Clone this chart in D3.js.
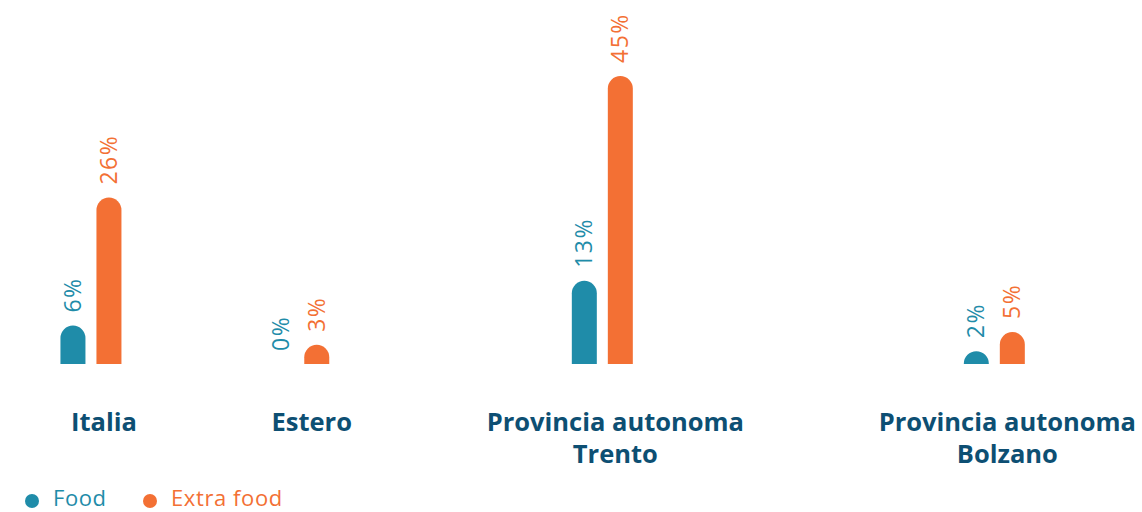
<!DOCTYPE html>
<html>
<head>
<meta charset="utf-8">
<script src="https://cdn.jsdelivr.net/npm/d3@7"></script>
<style>
  body { margin: 0; background: #fff; }
  svg { display: block; }
</style>
</head>
<body>
<div id="chart"></div>
<script>
var categories = [['Italia'], ['Estero'], ['Provincia autonoma', 'Trento'], ['Provincia autonoma', 'Bolzano']];
var seriesNames = ['Food', 'Extra food'];
var food = [6, 0, 13, 2];
var extraFood = [26, 3, 45, 5];
var colors = ['#1f8ca9', '#f37034'];

var w = 1142, h = 512;
var baseline = 364;
var barW = 25, barStep = 36, r = barW / 2;

var svg = d3.select('#chart').append('svg')
  .attr('width', w)
  .attr('height', h);

var y = d3.scaleLinear().domain([0, 45]).range([baseline, 76]);

// category labels first, their widths drive the group layout (like a flex row)
var labels = svg.append('g').selectAll('text').data(categories).enter().append('text')
  .attr('y', 431)
  .attr('text-anchor', 'middle')
  .attr('font-family', '"Open Sans", sans-serif')
  .attr('font-weight', 700)
  .attr('font-size', 25.5)
  .attr('fill', '#0d4f73');

labels.selectAll('tspan').data(function(d) { return d; }).enter().append('tspan')
  .attr('x', 0)
  .attr('dy', function(d, i) { return i ? 32 : 0; })
  .text(function(d) { return d; });

var widths = [];
labels.each(function() { widths.push(this.getBBox().width); });
var left = 71, right = 1136;
var gap = (right - left - d3.sum(widths)) / (categories.length - 1);
var centers = [], pos = left;
widths.forEach(function(wd) { centers.push(pos + wd / 2); pos += wd + gap; });

labels.each(function(d, i) {
  d3.select(this).selectAll('tspan').attr('x', centers[i]);
});

var data = [];
categories.forEach(function(c, i) {
  [food[i], extraFood[i]].forEach(function(v, s) {
    var cx = centers[i] - 13 + (s - 0.5) * barStep;
    data.push({ v: v, s: s, cx: cx });
  });
});

function barPath(d) {
  var top = y(d.v), x0 = d.cx - r, x1 = d.cx + r;
  if (baseline - top <= 0) return '';
  var rr = Math.min(r, baseline - top);
  return 'M' + x0 + ',' + baseline + 'V' + (top + rr) +
    'A' + r + ',' + rr + ' 0 0 1 ' + x1 + ',' + (top + rr) +
    'V' + baseline + 'Z';
}

svg.append('g').selectAll('path').data(data).enter().append('path')
  .attr('d', barPath)
  .attr('fill', function(d) { return colors[d.s]; });

svg.append('g').selectAll('text').data(data).enter().append('text')
  .attr('transform', function(d) {
    return 'translate(' + (d.cx + 8) + ',' + (y(d.v) - 13) + ') rotate(-90)';
  })
  .attr('font-family', '"Open Sans", sans-serif')
  .attr('font-weight', 400)
  .attr('font-size', 23)
  .attr('letter-spacing', 1.5)
  .attr('fill', function(d) { return colors[d.s]; })
  .text(function(d) { return d.v + '%'; });

// legend
var legend = svg.append('g').selectAll('g').data(seriesNames).enter().append('g')
  .attr('transform', function(d, i) { return 'translate(' + (32 + i * 118) + ',501)'; });

legend.append('circle')
  .attr('r', 7)
  .attr('fill', function(d, i) { return colors[i]; });

legend.append('text')
  .attr('x', 21)
  .attr('y', 5)
  .attr('font-family', '"Open Sans", sans-serif')
  .attr('font-size', 22)
  .attr('letter-spacing', 0.6)
  .attr('fill', function(d, i) { return colors[i]; })
  .text(function(d) { return d; });
</script>
</body>
</html>
